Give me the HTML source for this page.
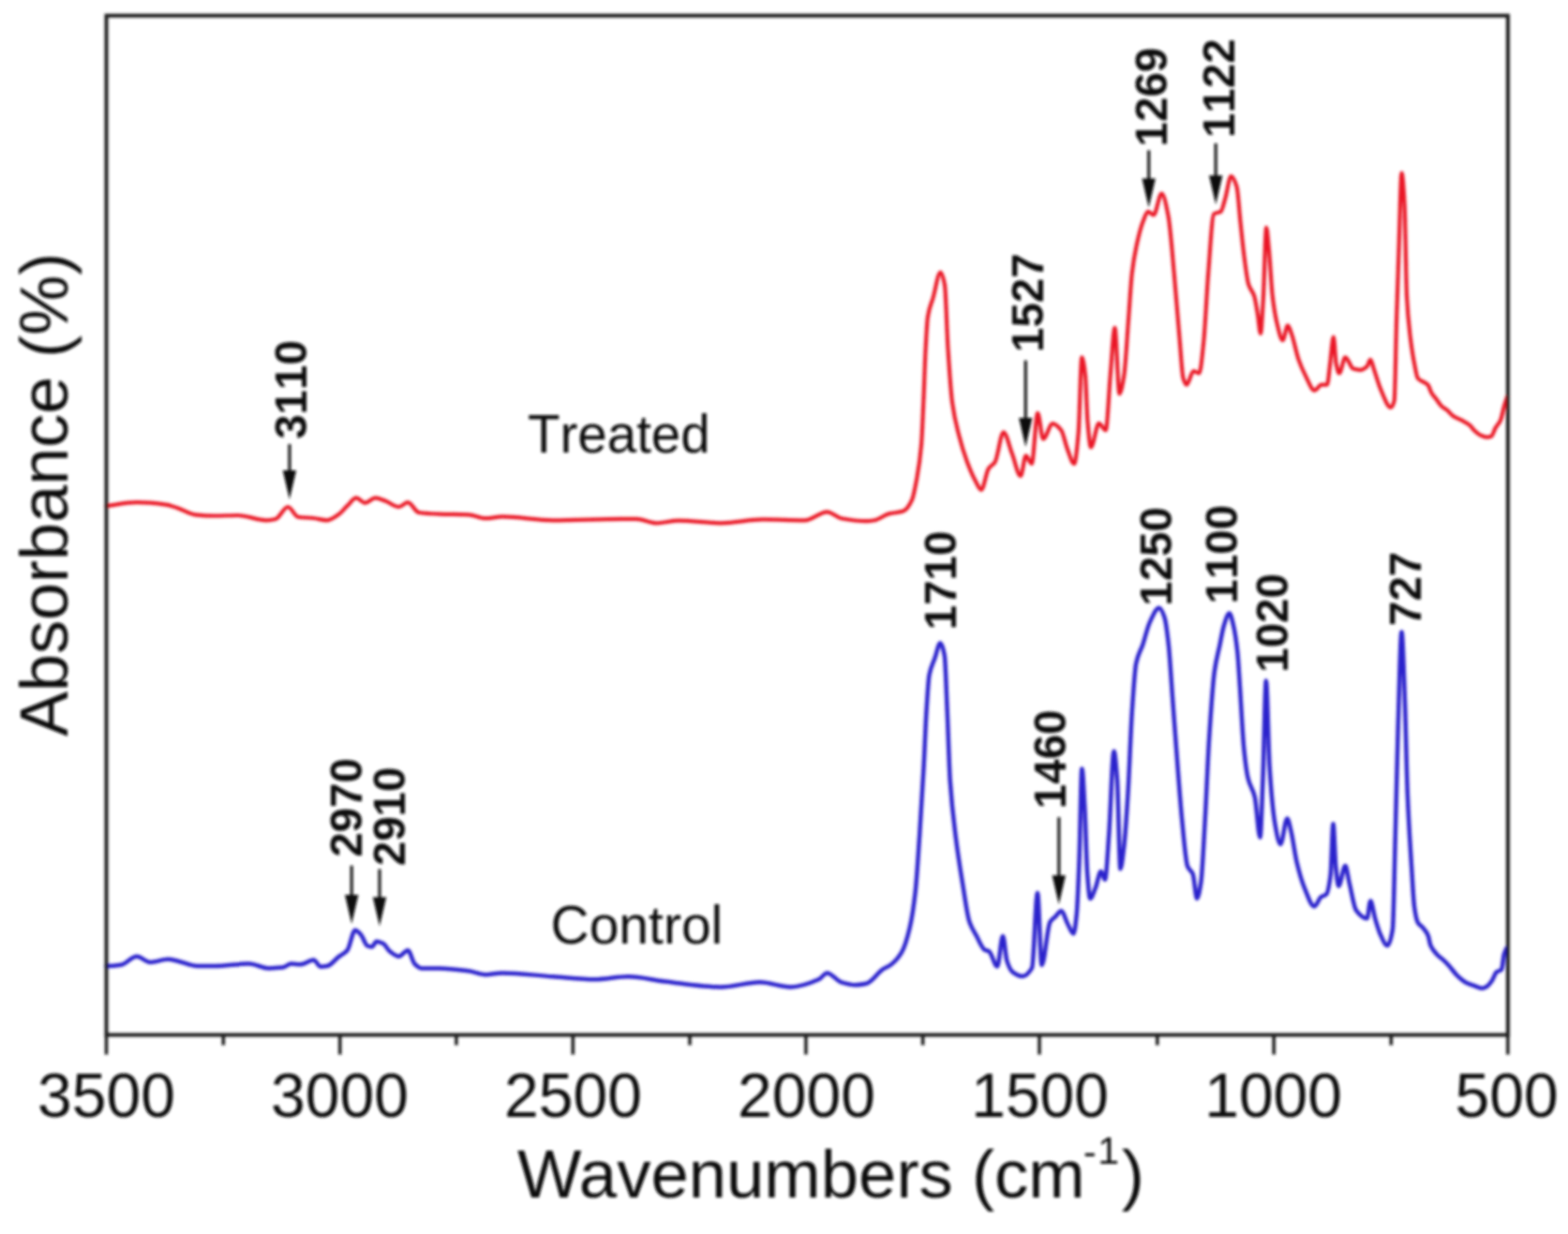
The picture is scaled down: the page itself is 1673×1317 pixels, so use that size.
<!DOCTYPE html><html><head><meta charset="utf-8"><title>FTIR spectra</title>
<style>html,body{margin:0;padding:0;background:#fff;}svg{display:block;}text{font-kerning:none;}</style></head><body>
<svg width="1673" height="1317" viewBox="0 0 1673 1317">
<defs><filter id="bl" x="-2%" y="-2%" width="104%" height="104%"><feGaussianBlur stdDeviation="1.7"/></filter></defs>
<rect width="1673" height="1317" fill="#fff"/>
<g filter="url(#bl)">
<path d="M113.5 540.0C113.9 539.9 114.4 539.9 114.8 539.8C125.2 538.4 135.5 536.2 145.9 536.2C156.3 536.2 166.6 537.2 177.0 538.6C181.0 539.1 185.0 540.7 189.0 542.0C195.3 544.0 201.7 548.7 208.0 549.3C215.2 550.0 222.3 550.5 229.5 550.5C237.5 550.5 245.5 550.0 253.5 550.0C263.8 550.0 274.2 555.3 284.5 555.3C287.7 555.3 290.8 554.7 294.0 554.0C298.4 553.0 302.8 541.0 307.2 541.0C310.8 541.0 314.4 551.1 318.0 551.7C323.6 552.6 329.1 552.4 334.7 553.0C339.5 553.5 344.2 555.3 349.0 555.3C353.0 555.3 357.0 552.0 361.0 549.3C364.2 547.1 367.4 542.8 370.6 539.8C373.7 536.9 376.9 531.4 380.0 531.4C383.2 531.4 386.5 536.7 389.7 536.7C393.3 536.7 396.9 531.4 400.5 531.4C404.0 531.4 407.5 533.3 411.0 534.5C415.9 536.2 420.7 541.0 425.6 541.0C428.7 541.0 431.9 536.2 435.0 536.2C439.0 536.2 443.0 546.4 447.0 547.0C454.2 548.1 461.4 548.3 468.6 548.6C479.1 549.0 489.5 548.8 500.0 549.3C506.0 549.6 512.0 553.2 518.0 553.2C524.0 553.2 530.0 551.4 536.0 551.4C553.9 551.4 571.8 555.3 589.7 555.3C614.5 555.3 639.2 553.8 664.0 553.8C669.0 553.8 674.0 553.8 679.0 553.8C686.0 553.8 693.0 558.3 700.0 558.3C708.0 558.3 716.0 555.6 724.0 555.6C739.0 555.6 754.0 558.3 769.0 558.3C783.9 558.3 798.9 554.4 813.8 554.4C828.7 554.4 843.7 555.3 858.6 555.3C866.6 555.3 874.5 546.3 882.5 546.3C887.5 546.3 892.5 552.2 897.5 553.2C906.5 554.9 915.4 556.2 924.4 556.2C927.3 556.2 930.1 555.8 933.0 555.3C938.1 554.5 943.2 549.7 948.3 548.4C953.4 547.1 958.6 547.3 963.7 545.6C966.7 544.6 969.8 540.4 972.8 534.2C974.7 530.3 976.6 519.9 978.5 509.2C980.0 500.8 981.5 492.3 983.0 475.0C983.8 466.2 984.5 446.4 985.3 429.5C986.1 412.6 986.8 386.8 987.6 372.5C988.4 358.3 989.1 343.2 989.9 338.3C991.8 326.3 993.7 324.5 995.6 317.8C998.2 308.5 1000.9 290.5 1003.5 290.5C1005.0 290.5 1006.5 295.9 1008.0 304.0C1009.2 310.3 1010.3 354.4 1011.5 372.5C1013.0 395.8 1014.5 418.5 1016.0 429.5C1018.3 446.4 1020.6 454.5 1022.9 463.6C1025.9 475.6 1029.0 485.1 1032.0 493.2C1035.0 501.2 1038.0 508.3 1041.0 513.7C1043.0 517.3 1045.0 522.8 1047.0 522.8C1049.6 522.8 1052.2 503.8 1054.8 500.0C1057.1 496.7 1059.3 496.6 1061.6 493.2C1064.6 488.6 1067.7 461.3 1070.7 461.3C1073.7 461.3 1076.8 476.3 1079.8 484.0C1082.9 491.8 1085.9 508.0 1089.0 508.0C1090.9 508.0 1092.7 486.4 1094.6 486.4C1096.7 486.4 1098.7 495.0 1100.8 495.0C1102.9 495.0 1105.1 440.8 1107.2 440.8C1109.1 440.8 1111.1 468.5 1113.0 468.5C1116.4 468.5 1119.7 452.2 1123.1 452.2C1126.1 452.2 1129.2 455.3 1132.2 459.0C1134.5 461.8 1136.7 473.9 1139.0 479.6C1141.4 485.6 1143.7 495.0 1146.1 495.0C1147.6 495.0 1149.2 478.7 1150.7 461.6C1151.9 448.2 1153.1 381.4 1154.3 381.4C1155.5 381.4 1156.8 390.1 1158.0 400.9C1158.8 407.9 1159.6 440.3 1160.4 449.5C1161.6 463.4 1162.8 477.4 1164.0 477.4C1166.8 477.4 1169.7 451.9 1172.5 451.9C1174.9 451.9 1177.4 459.2 1179.8 459.2C1181.4 459.2 1183.1 419.3 1184.7 400.9C1186.3 382.9 1187.9 349.8 1189.5 349.8C1191.1 349.8 1192.8 420.3 1194.4 420.3C1196.0 420.3 1197.7 410.8 1199.3 400.9C1200.9 391.2 1202.5 360.8 1204.1 340.1C1205.3 324.2 1206.6 301.9 1207.8 291.5C1209.4 278.0 1211.0 269.7 1212.6 262.3C1215.0 251.0 1217.5 241.7 1219.9 235.6C1221.5 231.5 1223.2 225.9 1224.8 225.9C1226.8 225.9 1228.9 229.5 1230.9 229.5C1233.7 229.5 1236.6 206.5 1239.4 206.5C1241.8 206.5 1244.2 218.5 1246.6 230.8C1248.6 241.2 1250.7 269.4 1252.7 291.5C1254.7 313.6 1256.8 341.4 1258.8 364.4C1260.0 378.0 1261.2 399.3 1262.4 403.3C1263.6 407.4 1264.9 410.6 1266.1 410.6C1268.5 410.6 1271.0 396.0 1273.4 396.0C1275.4 396.0 1277.5 398.4 1279.5 398.4C1281.1 398.4 1282.7 379.7 1284.3 364.4C1285.9 348.7 1287.6 311.8 1289.2 291.5C1291.2 266.7 1293.2 229.6 1295.2 228.3C1297.6 226.7 1300.1 227.4 1302.5 225.9C1304.1 224.9 1305.8 216.7 1307.4 211.3C1309.4 204.5 1311.5 188.2 1313.5 188.2C1315.5 188.2 1317.5 192.8 1319.5 199.2C1320.9 203.6 1322.2 225.3 1323.6 238.0C1324.8 249.5 1326.1 262.6 1327.3 272.0C1328.9 284.5 1330.6 298.6 1332.2 303.7C1334.2 310.0 1336.2 309.8 1338.2 315.8C1339.4 319.5 1340.7 327.9 1341.9 335.2C1342.9 341.3 1344.0 355.9 1345.0 355.9C1346.0 355.9 1347.0 332.8 1348.0 315.8C1349.0 298.2 1350.1 242.9 1351.1 242.9C1352.1 242.9 1353.0 257.4 1354.0 267.2C1355.2 279.7 1356.5 305.4 1357.7 315.8C1359.3 329.3 1360.9 338.5 1362.5 345.0C1364.5 353.3 1366.6 363.2 1368.6 363.2C1370.4 363.2 1372.2 347.4 1374.0 347.4C1375.4 347.4 1376.9 353.2 1378.3 357.1C1380.7 363.8 1383.2 377.0 1385.6 383.9C1388.0 390.8 1390.5 396.2 1392.9 400.9C1396.1 407.2 1399.4 416.7 1402.6 416.7C1405.0 416.7 1407.5 410.6 1409.9 410.6C1411.9 410.6 1414.0 410.6 1416.0 410.6C1417.0 410.6 1418.1 396.4 1419.1 388.7C1420.3 379.5 1421.6 359.5 1422.8 359.5C1423.8 359.5 1424.7 384.2 1425.7 388.7C1426.8 393.7 1427.8 398.4 1428.9 398.4C1431.1 398.4 1433.2 381.4 1435.4 381.4C1438.2 381.4 1441.1 392.8 1443.9 393.6C1446.3 394.3 1448.8 394.8 1451.2 394.8C1453.6 394.8 1456.1 393.2 1458.5 391.1C1459.7 390.0 1461.0 383.9 1462.2 383.9C1463.4 383.9 1464.6 390.2 1465.8 393.6C1468.2 400.5 1470.7 409.9 1473.1 415.4C1476.7 423.7 1480.4 434.9 1484.0 434.9C1485.2 434.9 1486.5 432.5 1487.7 427.6C1488.5 424.4 1489.3 366.6 1490.1 340.1C1490.9 313.6 1491.7 290.3 1492.5 267.2C1493.5 238.3 1494.5 184.6 1495.5 184.6C1496.5 184.6 1497.6 200.3 1498.6 218.6C1499.4 232.8 1500.2 300.6 1501.0 315.8C1502.2 339.3 1503.5 349.0 1504.7 359.5C1506.2 371.9 1507.6 380.8 1509.1 388.2C1510.3 394.5 1511.6 402.2 1512.8 403.7C1515.2 406.6 1517.6 406.7 1520.0 408.3C1521.2 409.1 1522.5 409.6 1523.7 411.0C1524.9 412.3 1526.1 417.1 1527.3 419.2C1529.1 422.3 1531.0 424.1 1532.8 426.5C1534.6 428.9 1536.5 432.2 1538.3 433.8C1540.1 435.4 1541.9 436.0 1543.7 437.4C1545.8 439.1 1548.0 442.3 1550.1 443.8C1553.1 445.9 1556.2 446.7 1559.2 448.4C1562.2 450.1 1565.3 451.3 1568.3 453.8C1569.8 455.1 1571.4 457.9 1572.9 459.3C1575.3 461.6 1577.8 463.8 1580.2 464.8C1582.3 465.7 1584.5 466.6 1586.6 466.6C1588.1 466.6 1589.6 466.2 1591.1 465.7C1592.6 465.1 1594.2 459.2 1595.7 456.6C1597.5 453.5 1599.3 452.5 1601.1 448.4C1602.3 445.6 1603.6 438.0 1604.8 433.8C1606.0 429.7 1607.2 426.6 1608.4 423.0" fill="none" stroke="#ea1826" stroke-width="4.2" stroke-linejoin="round" stroke-linecap="round"/>
<path d="M113.5 1031.0C113.9 1031.0 114.4 1031.0 114.8 1031.0C119.6 1031.0 124.3 1030.5 129.1 1029.8C134.7 1029.0 140.3 1020.7 145.9 1020.7C150.7 1020.7 155.4 1026.9 160.2 1026.9C166.6 1026.9 172.9 1023.8 179.3 1023.8C182.5 1023.8 185.7 1024.8 188.9 1025.5C196.1 1027.0 203.2 1031.0 210.4 1031.0C216.8 1031.0 223.1 1031.0 229.5 1031.0C241.5 1031.0 253.4 1028.6 265.4 1028.6C272.6 1028.6 279.7 1033.4 286.9 1033.4C291.7 1033.4 296.5 1033.1 301.3 1032.6C304.5 1032.3 307.6 1028.6 310.8 1028.6C314.0 1028.6 317.2 1029.3 320.4 1029.3C325.2 1029.3 329.9 1024.5 334.7 1024.5C337.1 1024.5 339.5 1031.7 341.9 1031.7C344.3 1031.7 346.7 1031.4 349.1 1031.0C353.1 1030.4 357.0 1024.5 361.0 1021.4C364.2 1018.9 367.4 1018.0 370.6 1014.2C373.4 1010.9 376.2 992.7 379.0 992.7C381.0 992.7 383.0 995.3 385.0 997.5C387.4 1000.0 389.7 1008.6 392.1 1009.5C393.7 1010.1 395.3 1010.6 396.9 1010.6C398.5 1010.6 400.1 1004.7 401.7 1004.7C404.1 1004.7 406.5 1005.9 408.9 1007.1C411.3 1008.3 413.6 1013.6 416.0 1015.4C419.2 1017.8 422.4 1020.7 425.6 1020.7C428.8 1020.7 432.0 1014.2 435.2 1014.2C437.6 1014.2 439.9 1026.2 442.3 1028.6C444.7 1031.0 447.1 1033.4 449.5 1033.4C455.9 1033.4 462.2 1033.4 468.6 1033.4C479.1 1033.4 489.5 1034.9 500.0 1036.3C506.0 1037.1 512.0 1040.2 518.0 1040.2C524.0 1040.2 529.9 1038.4 535.9 1038.4C553.8 1038.4 571.8 1041.1 589.7 1042.3C604.6 1043.3 619.6 1045.3 634.5 1045.3C646.4 1045.3 658.4 1042.3 670.3 1042.3C683.3 1042.3 696.2 1045.9 709.2 1047.4C729.1 1049.7 749.1 1053.4 769.0 1053.4C782.9 1053.4 796.9 1048.3 810.8 1048.3C821.8 1048.3 832.7 1053.4 843.7 1053.4C853.7 1053.4 863.6 1049.7 873.6 1045.3C876.6 1044.0 879.5 1038.4 882.5 1038.4C887.5 1038.4 892.5 1046.8 897.5 1048.3C902.5 1049.8 907.4 1051.3 912.4 1051.3C916.4 1051.3 920.4 1050.6 924.4 1049.8C930.4 1048.6 936.3 1038.1 942.3 1034.2C944.9 1032.5 947.4 1031.8 950.0 1030.0C954.0 1027.2 957.9 1023.3 961.9 1016.7C964.8 1011.8 967.8 1002.4 970.7 990.0C972.7 981.6 974.7 969.2 976.7 951.5C978.2 938.5 979.6 913.9 981.1 892.2C982.6 870.0 984.1 845.7 985.6 818.1C986.6 800.3 987.5 774.2 988.5 758.9C989.5 743.1 990.5 725.6 991.5 720.4C993.5 710.1 995.4 708.3 997.4 702.6C999.4 696.9 1001.3 686.3 1003.3 686.3C1004.8 686.3 1006.3 691.4 1007.8 699.6C1008.8 704.9 1009.7 737.3 1010.7 758.9C1011.7 781.3 1012.7 818.0 1013.7 833.0C1015.7 862.4 1017.6 876.1 1019.6 892.2C1022.1 912.4 1024.5 927.4 1027.0 942.6C1029.5 957.8 1031.9 976.8 1034.4 984.0C1036.9 991.3 1039.4 994.3 1041.9 998.9C1044.8 1004.3 1047.8 1012.2 1050.7 1013.7C1052.2 1014.5 1053.7 1014.4 1055.2 1015.2C1058.2 1016.8 1061.1 1031.5 1064.1 1031.5C1066.1 1031.5 1068.0 998.9 1070.0 998.9C1071.5 998.9 1072.9 1021.1 1074.4 1025.6C1076.4 1031.7 1078.4 1035.9 1080.4 1037.4C1083.8 1040.0 1087.3 1041.9 1090.7 1041.9C1094.2 1041.9 1097.6 1039.1 1101.1 1033.0C1103.1 1029.6 1105.0 953.0 1107.0 953.0C1108.5 953.0 1110.0 1030.0 1111.5 1030.0C1114.5 1030.0 1117.4 988.8 1120.4 984.0C1122.4 980.8 1124.3 980.1 1126.3 978.1C1128.3 976.1 1130.2 972.2 1132.2 972.2C1134.7 972.2 1137.1 982.6 1139.6 987.0C1141.5 990.5 1143.5 996.5 1145.4 996.5C1146.5 996.5 1147.6 986.8 1148.7 976.3C1149.6 967.4 1150.6 942.5 1151.5 918.6C1152.5 893.9 1153.4 820.5 1154.4 820.5C1155.4 820.5 1156.3 843.6 1157.3 860.9C1158.3 878.2 1159.2 920.3 1160.2 933.0C1161.2 945.7 1162.1 959.0 1163.1 959.0C1165.0 959.0 1167.0 952.2 1168.9 947.5C1170.8 942.9 1172.7 930.1 1174.6 930.1C1176.1 930.1 1177.5 938.8 1179.0 938.8C1180.4 938.8 1181.9 909.1 1183.3 889.7C1185.0 866.2 1186.8 801.7 1188.5 801.7C1189.7 801.7 1190.8 816.5 1192.0 832.0C1193.1 847.0 1194.3 927.3 1195.4 927.3C1196.7 927.3 1197.9 914.7 1199.2 904.2C1200.6 892.3 1202.1 869.6 1203.5 846.5C1204.9 823.4 1206.4 781.3 1207.8 759.9C1209.3 738.0 1210.7 714.9 1212.2 707.9C1214.6 696.4 1217.0 694.9 1219.4 687.7C1221.8 680.5 1224.2 669.7 1226.6 664.6C1230.0 657.4 1233.3 648.8 1236.7 648.8C1238.6 648.8 1240.6 653.4 1242.5 658.9C1243.9 663.0 1245.4 674.9 1246.8 687.7C1248.2 700.5 1249.7 726.2 1251.1 745.4C1252.5 764.6 1254.0 784.7 1255.4 803.2C1257.3 828.2 1259.3 855.8 1261.2 875.3C1263.1 894.8 1265.1 919.5 1267.0 924.4C1268.9 929.3 1270.9 928.3 1272.8 933.0C1274.2 936.5 1275.7 959.0 1277.1 959.0C1278.5 959.0 1280.0 950.8 1281.4 941.7C1282.8 932.6 1284.3 900.1 1285.7 875.3C1287.2 849.9 1288.6 811.5 1290.1 788.7C1292.0 759.2 1293.9 730.2 1295.8 716.6C1297.7 702.8 1299.7 697.0 1301.6 687.7C1303.0 680.8 1304.5 671.9 1305.9 667.5C1307.8 661.5 1309.8 654.5 1311.7 654.5C1313.1 654.5 1314.6 661.6 1316.0 667.5C1317.5 673.6 1318.9 682.7 1320.4 696.4C1321.2 704.2 1322.1 719.9 1322.9 732.2C1324.3 753.4 1325.8 784.2 1327.2 798.5C1328.6 812.8 1330.1 824.3 1331.5 830.3C1333.9 840.5 1336.4 840.4 1338.8 850.5C1340.7 858.4 1342.6 893.8 1344.5 893.8C1345.5 893.8 1346.4 857.0 1347.4 833.2C1348.6 804.4 1349.7 726.4 1350.9 726.4C1352.1 726.4 1353.4 800.0 1354.6 818.7C1356.5 848.1 1358.5 868.6 1360.4 879.3C1362.3 890.0 1364.3 901.0 1366.2 901.0C1368.6 901.0 1371.0 873.6 1373.4 873.6C1374.8 873.6 1376.3 882.1 1377.7 888.0C1379.6 895.9 1381.6 911.6 1383.5 919.7C1386.4 931.9 1389.3 941.6 1392.2 948.6C1395.6 956.7 1398.9 967.4 1402.3 967.4C1404.7 967.4 1407.1 959.1 1409.5 957.3C1411.4 955.9 1413.3 956.2 1415.2 954.4C1416.7 953.0 1418.1 945.5 1419.6 934.2C1420.6 926.7 1421.5 879.3 1422.5 879.3C1423.4 879.3 1424.4 916.3 1425.3 925.5C1426.3 935.0 1427.2 945.7 1428.2 945.7C1430.6 945.7 1433.0 924.1 1435.4 924.1C1436.9 924.1 1438.3 936.7 1439.8 942.8C1442.2 952.7 1444.6 968.5 1447.0 971.7C1450.8 976.8 1454.7 980.3 1458.5 980.3C1459.8 980.3 1461.0 961.6 1462.3 961.6C1463.9 961.6 1465.6 974.8 1467.2 980.3C1469.1 986.8 1471.1 993.6 1473.0 997.7C1475.4 1002.8 1477.8 1009.2 1480.2 1009.2C1482.1 1009.2 1484.0 1003.6 1485.9 991.9C1486.9 986.0 1487.8 926.8 1488.8 890.9C1489.8 855.0 1490.7 806.5 1491.7 775.4C1493.0 734.7 1494.2 674.4 1495.5 674.4C1496.6 674.4 1497.8 716.5 1498.9 746.6C1499.9 772.3 1500.8 824.1 1501.8 847.6C1503.2 882.5 1504.7 902.8 1506.1 925.5C1507.1 941.3 1508.1 961.3 1509.1 968.2C1510.3 976.7 1511.6 982.5 1512.8 984.6C1514.6 987.7 1516.4 987.9 1518.2 990.1C1520.0 992.3 1521.9 994.1 1523.7 998.3C1524.6 1000.4 1525.5 1007.2 1526.4 1009.2C1528.8 1014.6 1531.3 1016.6 1533.7 1019.2C1535.8 1021.4 1538.0 1022.7 1540.1 1024.7C1541.9 1026.4 1543.8 1028.2 1545.6 1030.2C1548.6 1033.5 1551.7 1038.2 1554.7 1041.1C1557.7 1044.0 1560.8 1046.8 1563.8 1048.4C1566.8 1050.0 1569.9 1051.0 1572.9 1052.0C1575.9 1053.0 1579.0 1054.8 1582.0 1054.8C1583.8 1054.8 1585.7 1053.3 1587.5 1052.0C1589.0 1050.9 1590.5 1048.8 1592.0 1046.6C1593.5 1044.3 1595.1 1038.8 1596.6 1037.5C1598.4 1036.0 1600.3 1036.6 1602.1 1034.7C1603.0 1033.8 1603.9 1021.3 1604.8 1018.3C1605.7 1015.3 1606.6 1014.1 1607.5 1012.0" fill="none" stroke="#2c20cc" stroke-width="4.5" stroke-linejoin="round" stroke-linecap="round"/>
<rect x="113.5" y="16.7" width="1495.4" height="1087.8" fill="none" stroke="#1e1e1e" stroke-width="4"/>
<g stroke="#1a1a1a" stroke-width="3.5"><line x1="1608.8" y1="1104.5" x2="1608.8" y2="1125.5"/><line x1="1484.3" y1="1104.5" x2="1484.3" y2="1115.5"/><line x1="1359.2" y1="1104.5" x2="1359.2" y2="1125.5"/><line x1="1234.8" y1="1104.5" x2="1234.8" y2="1115.5"/><line x1="1109.0" y1="1104.5" x2="1109.0" y2="1125.5"/><line x1="984.6" y1="1104.5" x2="984.6" y2="1115.5"/><line x1="859.9" y1="1104.5" x2="859.9" y2="1125.5"/><line x1="736.0" y1="1104.5" x2="736.0" y2="1115.5"/><line x1="611.3" y1="1104.5" x2="611.3" y2="1125.5"/><line x1="486.9" y1="1104.5" x2="486.9" y2="1115.5"/><line x1="362.7" y1="1104.5" x2="362.7" y2="1125.5"/><line x1="238.3" y1="1104.5" x2="238.3" y2="1115.5"/><line x1="113.5" y1="1104.5" x2="113.5" y2="1125.5"/></g>
<g font-family="'Liberation Sans', Arial, Helvetica, sans-serif" font-size="66" fill="#111" text-anchor="middle"><text x="1607.6" y="1191.5">500</text><text x="1358.6" y="1191.5">1000</text><text x="1109.6" y="1191.5">1500</text><text x="860.5" y="1191.5">2000</text><text x="611.5" y="1191.5">2500</text><text x="362.5" y="1191.5">3000</text><text x="113.5" y="1191.5">3500</text></g>
<text font-family="'Liberation Sans', Arial, Helvetica, sans-serif" style="font-kerning:normal" font-size="72.5" fill="#111" x="552.1" y="1277.5">Wavenumbers (cm<tspan font-size="41" x="1156" y="1243">-</tspan><tspan font-size="41" x="1171.2" y="1242">1</tspan><tspan x="1196.8" y="1277.5">)</tspan></text>
<text font-family="'Liberation Sans', Arial, Helvetica, sans-serif" font-size="72" fill="#111" transform="translate(71.5,786) rotate(-90)" x="0" y="0">Absorbance (%)</text>
<text font-family="'Liberation Sans', Arial, Helvetica, sans-serif" font-size="56.5" fill="#111" x="563" y="482.5">Treated</text>
<text font-family="'Liberation Sans', Arial, Helvetica, sans-serif" font-size="57" fill="#111" x="587.5" y="1007">Control</text>
<g font-family="'Liberation Sans', Arial, Helvetica, sans-serif" font-size="47.5" font-weight="bold" fill="#111" text-anchor="middle"><text transform="translate(327.4,416.0) rotate(-90)">3110</text><text transform="translate(1112.9,323.2) rotate(-90)">1527</text><text transform="translate(1245.3,103.6) rotate(-90)">1269</text><text transform="translate(1316.9,94.2) rotate(-90)">1122</text><text transform="translate(386.1,862.0) rotate(-90)">2970</text><text transform="translate(432.4,871.4) rotate(-90)">2910</text><text transform="translate(1136.8,810.3) rotate(-90)">1460</text><text transform="translate(1020.0,619.4) rotate(-90)">1710</text><text transform="translate(1250.3,593.9) rotate(-90)">1250</text><text transform="translate(1320.3,591.7) rotate(-90)">1100</text><text transform="translate(1373.7,664.9) rotate(-90)">1020</text><text transform="translate(1516.1,628.4) rotate(-90)">727</text></g>
<line x1="308.9" y1="474.0" x2="308.9" y2="504.1" stroke="#111" stroke-width="3"/><path d="M301.7 502.1L316.1 502.1L308.9 533.1Z" fill="#111"/><line x1="1094.3" y1="384.7" x2="1094.3" y2="448.1" stroke="#111" stroke-width="3"/><path d="M1087.1 446.1L1101.5 446.1L1094.3 477.1Z" fill="#111"/><line x1="1225.7" y1="160.4" x2="1225.7" y2="192.5" stroke="#111" stroke-width="3"/><path d="M1218.5 190.5L1232.9 190.5L1225.7 221.5Z" fill="#111"/><line x1="1297.2" y1="153.0" x2="1297.2" y2="189.3" stroke="#111" stroke-width="3"/><path d="M1290.0 187.3L1304.4 187.3L1297.2 218.3Z" fill="#111"/><line x1="375.2" y1="923.8" x2="375.2" y2="957.1" stroke="#111" stroke-width="3"/><path d="M368.0 955.1L382.4 955.1L375.2 986.1Z" fill="#111"/><line x1="405.0" y1="927.6" x2="405.0" y2="959.5" stroke="#111" stroke-width="3"/><path d="M397.8 957.5L412.2 957.5L405.0 988.5Z" fill="#111"/><line x1="1129.8" y1="872.2" x2="1129.8" y2="936.3" stroke="#111" stroke-width="3"/><path d="M1122.6 934.3L1137.0 934.3L1129.8 965.3Z" fill="#111"/>
</g></svg></body></html>
